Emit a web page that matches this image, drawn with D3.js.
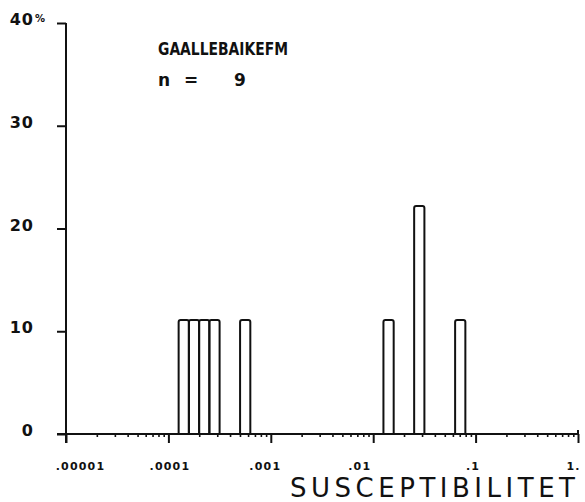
<!DOCTYPE html>
<html>
<head>
<meta charset="utf-8">
<script src="https://cdn.jsdelivr.net/npm/d3@7"></script>
<style>
  html, body { margin: 0; padding: 0; background: #fff; }
  svg { display: block; }
  text { font-family: "DejaVu Sans", sans-serif; fill: #111; }
</style>
</head>
<body>
<div id="chart"></div>
<script>
// histogram bins: lower / upper edge as log10(susceptibility), share of samples in %
const binLo = [-3.9, -3.8, -3.7, -3.6, -3.3, -1.9, -1.6, -1.2];
const binHi = [-3.8, -3.7, -3.6, -3.5, -3.2, -1.8, -1.5, -1.1];
const percent = [11.1, 11.1, 11.1, 11.1, 11.1, 11.1, 22.2, 11.1];

const xTicks = [1e-5, 1e-4, 1e-3, 1e-2, 1e-1, 1];
const xTickLabels = ['.00001', '.0001', '.001', '.01', '.1', '1.'];
const yTicks = [0, 10, 20, 30, 40];
const yTickLabels = ['0', '10', '20', '30', '40'];

const title = 'GAALLEBAIKEFM';
const sampleCount = 9;
const xTitle = 'SUSCEPTIBILITET';

const W = 585, H = 502;
const INK = '#111';

const svg = d3.select('#chart').append('svg')
    .attr('width', W)
    .attr('height', H);

const x = d3.scaleLog().domain([1e-5, 1]).range([66, 578]);
const y = d3.scaleLinear().domain([0, 40]).range([434, 23]);

// minor ticks (2..9 per decade)
const minor = [];
for (let e = -5; e < 0; e++) {
    for (let m = 2; m <= 9; m++) minor.push(m * Math.pow(10, e));
}
const minorAxis = svg.append('g')
    .attr('transform', `translate(0,${y(0)})`)
    .call(d3.axisBottom(x).tickValues(minor).tickSize(3).tickFormat(''));
minorAxis.select('.domain').remove();
minorAxis.selectAll('line').attr('stroke', INK).attr('stroke-width', 1.6);

// major ticks with labels, nudged like the plotter put them
const labelNudge = [14, 1, -6, -14, -3, -5];
const majorAxis = svg.append('g')
    .attr('transform', `translate(0,${y(0)})`)
    .call(d3.axisBottom(x).tickValues(xTicks).tickSize(9).tickPadding(27)
        .tickFormat((d, i) => xTickLabels[i]));
majorAxis.select('.domain').remove();
majorAxis.selectAll('line').attr('stroke', INK).attr('stroke-width', 2);
majorAxis.selectAll('text')
    .attr('dx', (d, i) => labelNudge[i])
    .attr('dy', 0)
    .style('font-size', '11px')
    .style('font-weight', 'bold')
    .style('letter-spacing', '1.2px')
    .attr('fill', INK);

// y axis
const yAxis = svg.append('g')
    .attr('transform', `translate(${x(1e-5)},0)`)
    .call(d3.axisLeft(y).tickValues(yTicks).tickSize(9).tickPadding(23)
        .tickFormat((d, i) => yTickLabels[i]));
yAxis.select('.domain').remove();
yAxis.selectAll('line').attr('stroke', INK).attr('stroke-width', 2);
yAxis.selectAll('text')
    .attr('dy', '0.1em')
    .style('font-size', '16px')
    .style('font-weight', 'bold')
    .style('letter-spacing', '1px')
    .attr('fill', INK);

svg.append('text')
    .attr('x', x(1e-5) - 31)
    .attr('y', y(40) - 1)
    .style('font-size', '10px')
    .style('font-weight', 'bold')
    .text('%');

// axis lines
svg.append('line')
    .attr('x1', x(1e-5)).attr('x2', x(1e-5))
    .attr('y1', y(40)).attr('y2', y(0) + 9)
    .attr('stroke', INK).attr('stroke-width', 2);
svg.append('path')
    .attr('d', `M${x(1e-5) - 9},${y(0)} H${x(1)} V${y(0) - 4}`)
    .attr('fill', 'none')
    .attr('stroke', INK).attr('stroke-width', 2);

// bars, open outline with slightly rounded top
const bars = binLo.map((lo, i) => ({
    x0: x(Math.pow(10, lo)),
    x1: x(Math.pow(10, binHi[i])),
    top: y(percent[i])
}));
svg.append('g').selectAll('path')
    .data(bars)
    .join('path')
    .attr('d', b => {
        const r = 2;
        return `M${b.x0},${y(0)} V${b.top + r} Q${b.x0},${b.top} ${b.x0 + r},${b.top}` +
            ` H${b.x1 - r} Q${b.x1},${b.top} ${b.x1},${b.top + r} V${y(0)}`;
    })
    .attr('fill', 'none')
    .attr('stroke', INK)
    .attr('stroke-width', 2);

// annotations
svg.append('text')
    .attr('x', 158).attr('y', 55)
    .attr('textLength', 130)
    .attr('lengthAdjust', 'spacingAndGlyphs')
    .style('font-size', '17px')
    .style('font-weight', 'bold')
    .text(title);

svg.append('text')
    .attr('x', 158).attr('y', 86)
    .style('font-size', '17px')
    .style('font-weight', 'bold')
    .text('n');
svg.append('text')
    .attr('x', 184).attr('y', 86)
    .style('font-size', '17px')
    .style('font-weight', 'bold')
    .text('=');
svg.append('text')
    .attr('x', 234).attr('y', 86)
    .style('font-size', '17px')
    .style('font-weight', 'bold')
    .text(sampleCount);

svg.append('text')
    .attr('x', 290).attr('y', 497)
    .attr('textLength', 285)
    .attr('lengthAdjust', 'spacing')
    .style('font-size', '26px')
    .text(xTitle);
</script>
</body>
</html>
